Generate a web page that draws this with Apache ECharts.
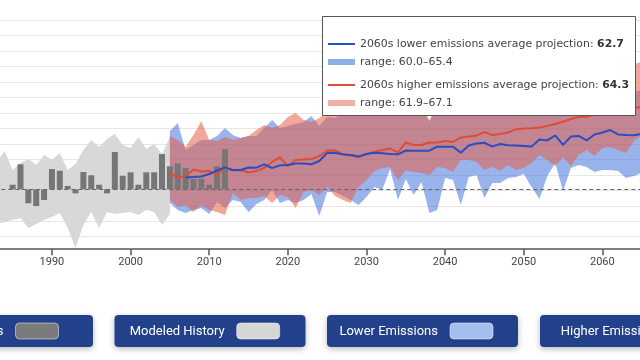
<!DOCTYPE html>
<html><head><meta charset="utf-8">
<script src="https://cdn.jsdelivr.net/npm/echarts@6/dist/echarts.min.js"></script>
<style>html,body{margin:0;padding:0;background:#fff}#c{width:640px;height:360px}</style>
</head><body><div id="c"></div>
<script>
// ---- data (°F) ----
const X_MIN = 1980, X_MAX = 2070, X_STEP = 10;
const Y_MIN = 55, Y_MAX = 70, Y_STEP = 1;
const BASELINE = 59.06;

const OBS_START = 1985;
const OBSERVED = [59.36, 60.68, 58.16, 57.98, 58.37, 60.37, 60.26, 59.28, 58.80,
  60.18, 59.97, 59.36, 58.80, 61.47, 59.94, 60.16, 59.36, 60.16, 60.16,
  61.34, 60.55, 60.74, 60.44, 59.73, 59.75, 59.36, 60.55, 61.65];

const HIST_START = 1983;
const HIST_TOP = [60.83, 61.54, 60.31, 60.76, 61.02, 60.63, 61.28, 60.96, 61.41, 60.31, 60.70,
  61.60, 62.25, 61.80, 62.31, 62.64, 61.93, 61.73, 62.44, 61.67, 61.99, 61.34, 62.44];
const HIST_BOTTOM = [56.82, 56.95, 57.08, 57.21, 56.56, 56.82, 57.08, 57.27, 57.53, 56.56, 55.27,
  56.76, 57.60, 56.56, 57.60, 57.47, 57.53, 57.60, 57.40, 57.73, 57.60, 56.76, 57.47];

const PROJ_START = 2005;
const LOWER_TOP = [62.83, 63.35, 61.60, 61.93, 62.25, 62.25, 62.51, 63.02, 62.57, 62.38,
  62.51, 62.51, 63.02, 63.54, 63.02, 63.15, 63.28, 63.41, 63.80, 63.15,
  63.73, 63.67, 64.06, 64.19, 64.06, 64.31, 64.19, 64.44, 64.19, 64.57,
  64.31, 64.44, 64.19, 63.48, 64.19, 64.57, 64.31, 64.70, 64.44, 64.83,
  64.57, 64.83, 64.57, 64.96, 64.70, 64.96, 64.83, 65.09, 64.83, 65.16,
  64.96, 65.22, 65.09, 65.35, 65.16, 65.35, 65.48, 65.29, 65.48, 65.35, 65.48];
const LOWER_BOTTOM = [58.18, 57.73, 57.53, 57.73, 57.86, 57.47, 58.24, 57.86, 58.37, 58.24,
  57.60, 58.11, 58.37, 59.02, 58.18, 58.37, 58.18, 58.37, 58.76, 57.34,
  58.89, 58.89, 58.63, 58.37, 58.05, 58.56, 59.21, 59.02, 60.37, 58.37,
  59.73, 58.69, 59.54, 57.53, 57.73, 59.79, 59.66, 58.05, 59.86, 59.99,
  58.50, 59.47, 59.47, 59.79, 59.86, 60.05, 59.21, 58.43, 59.92, 60.76,
  58.95, 60.44, 60.63, 60.50, 60.18, 60.31, 60.31, 60.25, 59.79, 59.92, 60.12];
const HIGHER_TOP = [62.51, 62.25, 61.80, 62.57, 63.48, 62.25, 62.18, 62.44, 62.25, 62.38,
  62.51, 62.89, 63.22, 63.02, 63.22, 63.73, 63.99, 63.54, 63.41, 63.67,
  64.06, 64.19, 64.44, 64.57, 64.44, 64.70, 64.57, 64.83, 64.70, 64.96,
  64.83, 65.09, 64.83, 63.48, 64.96, 65.22, 65.09, 65.35, 65.22, 65.48,
  65.35, 65.61, 65.48, 65.74, 65.61, 65.87, 65.80, 66.00, 65.87, 66.12,
  66.12, 66.38, 66.25, 66.51, 66.51, 66.77, 66.77, 66.90, 67.03, 67.16, 67.29];
const HIGHER_BOTTOM = [58.37, 57.92, 58.05, 57.60, 58.05, 57.73, 57.60, 57.40, 58.82, 58.37,
  58.50, 58.50, 58.63, 58.18, 58.69, 58.56, 57.86, 58.89, 59.02, 58.69,
  59.21, 58.63, 58.37, 58.18, 59.21, 59.66, 60.25, 60.44, 60.50, 59.66,
  60.31, 60.18, 60.12, 59.99, 60.50, 60.44, 60.18, 60.96, 60.96, 60.83,
  60.31, 60.50, 60.25, 60.63, 60.31, 60.44, 60.76, 61.28, 60.96, 60.57,
  61.15, 60.57, 61.28, 61.60, 61.21, 61.73, 61.80, 61.60, 61.41, 62.18, 62.57];

const HIGHER_AVG_START = 2005;
const HIGHER_AVG = [60.10, 59.84, 59.92, 60.34, 60.21, 60.25, 59.99, 60.48, 60.28, 60.31,
  60.15, 60.25, 60.44, 60.83, 61.13, 60.57, 60.96, 60.99, 61.02, 61.21,
  61.57, 61.58, 61.34, 61.25, 61.15, 61.34, 61.47, 61.60, 61.70, 61.44,
  62.09, 61.93, 61.93, 62.09, 62.09, 62.18, 62.12, 62.41, 62.47, 62.54,
  62.76, 62.57, 62.63, 62.73, 62.93, 62.99, 63.00, 63.06, 63.15, 63.28,
  63.43, 63.60, 63.73, 63.73, 63.90, 64.00, 64.10, 64.20, 64.00, 64.30, 64.40];
const LOWER_AVG_START = 2007;
const LOWER_AVG = [59.83, 59.86, 59.89, 60.05, 60.28, 60.48, 60.31, 60.31,
  60.47, 60.46, 60.67, 60.44, 60.61, 60.63, 60.73, 60.73, 60.68, 60.89,
  61.41, 61.43, 61.31, 61.28, 61.18, 61.34, 61.43, 61.39, 61.34, 61.32,
  61.57, 61.56, 61.56, 61.56, 61.82, 61.82, 61.82, 61.43, 61.89, 62.02,
  62.07, 61.82, 61.99, 61.91, 61.89, 61.86, 61.83, 62.28, 62.22, 62.54,
  61.93, 62.47, 62.51, 62.22, 62.60, 62.73, 62.89, 62.61, 62.57, 62.55, 62.63];

const LOWER_DECADE = {avg: '62.7', range: '60.0–65.4'};
const HIGHER_DECADE = {avg: '64.3', range: '61.9–67.1'};
const BUTTON_LABELS = ['Observations', 'Modeled History', 'Lower Emissions', 'Higher Emissions'];

// ---- styling ----
const C = {
  hist: '#d8d8d8', bar: '#767676',
  lowBand: 'rgba(60,110,220,0.52)', highBand: 'rgba(230,95,70,0.55)',
  lowLine: '#2b4dbf', highLine: '#e04b37',
  lowSwatch: '#8db0e8', highSwatch: '#f0b0a8',
  btn: '#22418a'
};

const pairs = (start, arr) => arr.map((v, i) => [start + i, v]);

function bandSeries(start, top, bot, color, z) {
  return {
    type: 'custom', silent: true, z: z, clip: true,
    data: [[start, top[0]]],
    renderItem: function (params, api) {
      const upper = top.map((v, i) => api.coord([start + i, v]));
      const lower = bot.map((v, i) => api.coord([start + i, v])).reverse();
      return {type: 'polygon', shape: {points: upper.concat(lower)}, style: {fill: color}};
    }
  };
}

const series = [
  bandSeries(HIST_START, HIST_TOP, HIST_BOTTOM, C.hist, 1),
  bandSeries(PROJ_START, LOWER_TOP, LOWER_BOTTOM, C.lowBand, 1),
  bandSeries(PROJ_START, HIGHER_TOP, HIGHER_BOTTOM, C.highBand, 1),
  {
    type: 'bar', yAxisIndex: 1, data: OBSERVED.map((v, i) => [OBS_START + i, +(v - BASELINE).toFixed(3)]),
    barWidth: 6, itemStyle: {color: C.bar}, z: 2, silent: true,
    markLine: {silent: true, symbol: 'none', label: {show: false},
      lineStyle: {color: '#666', type: [4, 3], width: 1},
      data: [{yAxis: 0}]}
  },
  {type: 'line', data: pairs(HIGHER_AVG_START, HIGHER_AVG), symbol: 'none',
   lineStyle: {color: C.highLine, width: 2}, z: 3, silent: true},
  {type: 'line', data: pairs(LOWER_AVG_START, LOWER_AVG), symbol: 'none',
   lineStyle: {color: C.lowLine, width: 2}, z: 3, silent: true}
];

// ---- legend box & buttons as graphics ----
const legendFont = '10.9px "DejaVu Sans"';
const graphics = [
  {type: 'rect', shape: {x: 322.5, y: 16.5, width: 313, height: 99},
   style: {fill: '#fff', stroke: '#555', lineWidth: 1}, z: 100},
  {type: 'line', shape: {x1: 328, y1: 44, x2: 355, y2: 44}, style: {stroke: C.lowLine, lineWidth: 2}, z: 101},
  {type: 'rect', shape: {x: 328, y: 59, width: 27, height: 6}, style: {fill: C.lowSwatch}, z: 101},
  {type: 'line', shape: {x1: 328, y1: 85, x2: 355, y2: 85}, style: {stroke: C.highLine, lineWidth: 2}, z: 101},
  {type: 'rect', shape: {x: 328, y: 100, width: 27, height: 6}, style: {fill: C.highSwatch}, z: 101},
  {type: 'text', x: 360, y: 44, z: 101, style: {
    text: '{n|2060s lower emissions average projection: }{b|' + LOWER_DECADE.avg + '}',
    verticalAlign: 'middle', rich: {n: {font: legendFont, fill: '#444'}, b: {font: 'bold ' + legendFont, fill: '#333'}}}},
  {type: 'text', x: 360, y: 62, z: 101, style: {text: 'range: ' + LOWER_DECADE.range,
    font: legendFont, fill: '#444', verticalAlign: 'middle'}},
  {type: 'text', x: 360, y: 85, z: 101, style: {
    text: '{n|2060s higher emissions average projection: }{b|' + HIGHER_DECADE.avg + '}',
    verticalAlign: 'middle', rich: {n: {font: legendFont, fill: '#444'}, b: {font: 'bold ' + legendFont, fill: '#333'}}}},
  {type: 'text', x: 360, y: 103, z: 101, style: {text: 'range: ' + HIGHER_DECADE.range,
    font: legendFont, fill: '#444', verticalAlign: 'middle'}}
];
const btnLayout = [
  {left: -98, swatchX: 15.5, swatch: '#7b7b7b'},
  {left: 114.5, swatchX: 236.7, swatch: '#d6d6d6'},
  {left: 327, swatchX: 450, swatch: '#a3bff0'},
  {left: 540, swatchX: 674, swatch: '#f2aaa0'}
];
btnLayout.forEach((b, i) => {
  graphics.push({type: 'rect', shape: {x: b.left, y: 315, width: 191, height: 32, r: 4},
    style: {fill: C.btn, shadowBlur: 6, shadowColor: 'rgba(0,0,0,0.28)', shadowOffsetY: 2}, z: 100});
  graphics.push({type: 'rect', shape: {x: b.swatchX, y: 323, width: 43, height: 16, r: 4},
    style: {fill: b.swatch, stroke: 'rgba(255,255,255,0.5)', lineWidth: 1}, z: 101});
  graphics.push({type: 'text', x: b.swatchX - 12, y: 331.5, z: 101,
    style: {text: BUTTON_LABELS[i], font: '13px Roboto', fill: '#fff', align: 'right', verticalAlign: 'middle'}});
});

const chart = echarts.init(document.getElementById('c'), null, {renderer: 'canvas'});
chart.setOption({
  animation: false,
  backgroundColor: '#fff',
  grid: {left: -26.7, right: -41, top: 20, bottom: 107.8, outerBoundsMode: 'none', containLabel: false},
  xAxis: {type: 'value', min: X_MIN, max: X_MAX, interval: X_STEP, offset: -3,
    axisLine: {onZero: false, lineStyle: {color: '#555', width: 1.5}},
    axisTick: {length: 6, lineStyle: {color: '#555', width: 1.5}},
    axisLabel: {color: '#444', fontSize: 11, fontFamily: 'Roboto', margin: 8, formatter: v => String(v)},
    splitLine: {show: false}},
  yAxis: [
    {type: 'value', min: Y_MIN, max: Y_MAX, interval: Y_STEP,
     axisLine: {show: false}, axisTick: {show: false}, axisLabel: {show: false},
     splitLine: {show: true, showMinLine: false, lineStyle: {color: '#e6e6e6', width: 1}}},
    {type: 'value', min: Y_MIN - BASELINE, max: Y_MAX - BASELINE, show: false, splitLine: {show: false}}
  ],
  series: series,
  graphic: graphics
});
</script></body></html>
